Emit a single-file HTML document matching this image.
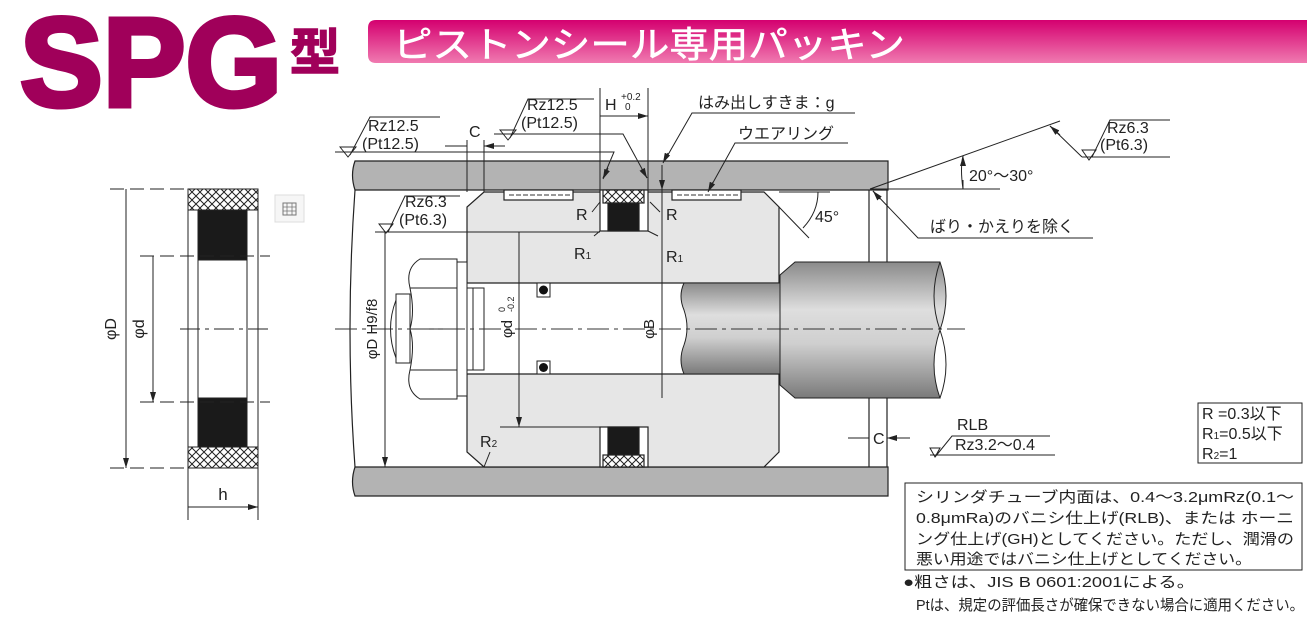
<!DOCTYPE html>
<html><head><meta charset="utf-8"><style>
html,body{margin:0;padding:0;background:#fff;}
svg{display:block;}
text{font-family:"Liberation Sans","Noto Sans CJK JP",sans-serif;fill:#222;}
</style></head><body>
<svg width="1307" height="621" viewBox="0 0 1307 621" xmlns="http://www.w3.org/2000/svg">
<defs>
<linearGradient id="bar" x1="0" y1="0" x2="0" y2="1">
<stop offset="0" stop-color="#d4006f"/><stop offset="1" stop-color="#f07ab0"/></linearGradient>
<linearGradient id="rod" x1="0" y1="0" x2="0" y2="1">
<stop offset="0" stop-color="#8a8a8a"/><stop offset="0.35" stop-color="#dedede"/><stop offset="0.6" stop-color="#cfcfcf"/><stop offset="1" stop-color="#7a7a7a"/></linearGradient>
<pattern id="xh" width="8" height="8" patternUnits="userSpaceOnUse">
<rect width="8" height="8" fill="#fff"/><path d="M0,0L8,8M8,0L0,8" stroke="#222" stroke-width="1"/></pattern>
<marker id="ar" markerWidth="10" markerHeight="6" refX="10" refY="3" orient="auto" markerUnits="userSpaceOnUse"><path d="M0,0L10,3L0,6z" fill="#222"/></marker>
</defs>

<!-- Header -->
<text x="20" y="106" font-size="126" font-weight="bold" style="fill:#a0005a;stroke:#a0005a;stroke-width:5" textLength="262" lengthAdjust="spacingAndGlyphs">SPG</text>
<text x="290" y="70" font-size="50" font-weight="bold" style="fill:#a0005a;stroke:#a0005a;stroke-width:1.5">型</text>
<path d="M376,20H1307V63H376Q368,63 368,55V28Q368,20 376,20Z" fill="url(#bar)"/>
<text x="393" y="57" font-size="36" style="fill:#fff;stroke:#fff;stroke-width:0.6" textLength="512" lengthAdjust="spacingAndGlyphs">ピストンシール専用パッキン</text>

<!-- Left seal figure -->
<g stroke="#222" stroke-width="1" fill="none">
<rect x="188" y="189" width="70" height="21" fill="url(#xh)"/>
<rect x="188" y="447" width="70" height="21" fill="url(#xh)"/>
<rect x="188" y="189" width="70" height="279"/>
<line x1="198" y1="210" x2="198" y2="447"/><line x1="247" y1="210" x2="247" y2="447"/>
<rect x="198" y="210" width="49" height="50" fill="#1a1a1a"/>
<rect x="198" y="398" width="49" height="49" fill="#1a1a1a"/>
<path d="M110,189H188M110,468H188M140,256H270M140,402H270" stroke-dasharray="14,6"/>
<path d="M180,329H272" stroke-dasharray="20,5,4,5"/>
<line x1="126" y1="189" x2="126" y2="468"/>
<path d="M126,200L126,189M126,457L126,468" marker-end="url(#ar)"/>
<line x1="153" y1="256" x2="153" y2="402"/>
<path d="M153,266L153,256M153,392L153,402" marker-end="url(#ar)"/>
<path d="M188,468V520M258,468V520"/>
<path d="M200,507L188,507M246,507L258,507" marker-end="url(#ar)"/><line x1="188" y1="507" x2="258" y2="507"/>
</g>
<text x="116" y="329" font-size="16" transform="rotate(-90 116 329)" text-anchor="middle">φD</text>
<text x="144" y="329" font-size="16" transform="rotate(-90 144 329)" text-anchor="middle">φd</text>
<text x="223" y="500" font-size="17" text-anchor="middle">h</text>
<rect x="275" y="195" width="29" height="27" fill="#f6f6f6" stroke="#ddd"/>
<rect x="283" y="203" width="13" height="12" fill="none" stroke="#777"/><path d="M283,207H296M283,211H296M287,203V215M292,203V215" stroke="#777" stroke-width="0.8"/>

<!-- Cylinder bands -->
<g stroke="#222" stroke-width="1.2">
<path d="M355,161H888V190H355Q350,175 355,161Z" fill="#b3b3b3"/>
<path d="M355,467H888V496H355Q350,482 355,467Z" fill="#b3b3b3"/>
<path d="M355,190Q345,330 355,467" fill="none"/>
<line x1="869" y1="190" x2="869" y2="467"/><line x1="887" y1="190" x2="887" y2="467"/>
<path d="M484,192H764L779,207V452L764,467H484L467,452V207Z" fill="#e6e6e6"/>
<rect x="467" y="283" width="313" height="91" fill="#fff" stroke="none"/>
<path d="M467,283H780M467,374H780" fill="none"/>
<rect x="600" y="190" width="48" height="41" fill="#fff"/>
<rect x="600" y="427" width="48" height="40" fill="#fff"/>
<rect x="603" y="190" width="41" height="13" fill="url(#xh)"/>
<rect x="608" y="203" width="31" height="28" fill="#1a1a1a"/>
<rect x="608" y="427" width="31" height="28" fill="#1a1a1a"/>
<rect x="603" y="455" width="41" height="12" fill="url(#xh)"/>
<rect x="504" y="190" width="69" height="10" fill="#fff"/>
<rect x="672" y="190" width="69" height="10" fill="#fff"/>
</g>
<path d="M509,195H570M677,195H738" stroke="#333" stroke-dasharray="5,2"/>
<path d="M684,283H780V374H684Q678,360 684,345Q690,328 684,310Q678,296 684,283Z" fill="url(#rod)" stroke="#222"/>
<path d="M795,262H940Q952,296 940,330Q928,365 940,398H795L780,385V275Z" fill="url(#rod)" stroke="#222"/>
<path d="M940,262Q928,296 940,330Q952,365 940,398" fill="none" stroke="#222"/>
<g stroke="#222" fill="#fff">
<path d="M420,259H457V399H420Q405,390 410,370Q415,345 410,329Q415,312 410,288Q405,268 420,259Z"/>
<path d="M410,288H457M410,370H457M410,329H457" fill="none"/>
<rect x="457" y="262" width="10" height="134"/>
<rect x="396" y="294" width="14" height="69"/>
<path d="M396,300Q385,329 396,358" fill="none"/>
<path d="M467,288H484V370H467" fill="none"/><line x1="473" y1="288" x2="473" y2="370"/>
<rect x="537" y="283" width="13" height="14"/><rect x="537" y="361" width="13" height="13"/>
</g>
<circle cx="543.5" cy="290" r="4.5" fill="#111"/><circle cx="543.5" cy="367.5" r="4.5" fill="#111"/>
<path d="M335,329H965" stroke="#333" stroke-dasharray="22,5,4,5"/>

<g stroke="#222" stroke-width="1" fill="none">
<line x1="385" y1="232" x2="385" y2="467"/><path d="M385,455L385,467" marker-end="url(#ar)"/>
<line x1="375" y1="232" x2="600" y2="232"/>
<line x1="519" y1="232" x2="519" y2="427"/><path d="M519,244L519,232M519,415L519,427" marker-end="url(#ar)"/>
<line x1="500" y1="427" x2="600" y2="427"/>
<line x1="662" y1="165" x2="662" y2="398"/><path d="M662,178L662,190" marker-end="url(#ar)"/>
<path d="M467,140V192M484,140V192"/>
<path d="M445,146L467,146M505,146L484,146" marker-end="url(#ar)"/>
<path d="M335,152H614L603,178"/><path d="M608,168L603,179" marker-end="url(#ar)"/>
<path d="M340,147L348,157L356,147Z M350,155L370,117H440"/>
<path d="M494,134H623L647,178"/><path d="M642,169L647,178" marker-end="url(#ar)"/>
<path d="M500,130L508,140L516,130Z M510,138L528,99H594"/>
<path d="M600,88V192M648,88V192"/>
<path d="M624,116L600,116M624,116L648,116" marker-end="url(#ar)"/>
<path d="M855,113H692L665,160"/><path d="M668,153L663,163" marker-end="url(#ar)"/>
<path d="M848,143H735L710,188"/><path d="M713,182L708,192" marker-end="url(#ar)"/>
<path d="M592,212L600,202M594,236L600,231M660,212L650,202M658,236L648,231"/>
<path d="M379,224L386,233L393,224Z M388,232L405,196H460"/>
<path d="M779,207L809,238M779,192H830"/>
<path d="M803,228Q818,212 818,192" />
<path d="M490,452L484,467"/>
<path d="M870,189H1000M870,189L1060,121"/>
<path d="M963,180V189M963,165V156" marker-end="url(#ar)"/>
<path d="M963,156Q960,168 963,189"/>
<path d="M1082,157H1170M1082,157L1050,126"/><path d="M1060,135L1050,126" marker-end="url(#ar)"/>
<path d="M1082,150L1089,160L1096,150Z M1092,157L1110,120H1170"/>
<path d="M1093,238H918L873,191"/><path d="M880,199L873,191" marker-end="url(#ar)"/>
<path d="M848,438L869,438M910,438L887,438" marker-end="url(#ar)"/>
<path d="M930,455H1055M930,448L935,457L940,448Z M935,457L952,436H1050"/>
<rect x="1198" y="403" width="104" height="60"/>
<rect x="905" y="483" width="397" height="87"/>
</g>

<g font-size="16">
<text x="368" y="131">Rz12.5</text><text x="362" y="149">(Pt12.5)</text>
<text x="469" y="137">C</text>
<text x="527" y="110">Rz12.5</text><text x="521" y="128">(Pt12.5)</text>
<text x="605" y="110">H</text><text x="621" y="100" font-size="10">+0.2</text><text x="625" y="110" font-size="10">0</text>
<text x="698" y="108">はみ出しすきま：g</text>
<text x="738" y="139">ウエアリング</text>
<text x="405" y="207">Rz6.3</text><text x="399" y="225">(Pt6.3)</text>
<text x="576" y="220">R</text><text x="666" y="220">R</text>
<text x="574" y="259">R<tspan font-size="10">1</tspan></text><text x="666" y="262">R<tspan font-size="10">1</tspan></text>
<text x="815" y="222">45°</text>
<text x="480" y="447">R<tspan font-size="10">2</tspan></text>
<text x="969" y="181">20°〜30°</text>
<text x="1107" y="133">Rz6.3</text><text x="1100" y="150">(Pt6.3)</text>
<text x="930" y="232">ばり・かえりを除く</text>
<text x="873" y="444">C</text>
<text x="957" y="430">RLB</text>
<text x="955" y="450">Rz3.2〜0.4</text>
<text x="1202" y="419">R =0.3以下</text>
<text x="1202" y="439">R<tspan font-size="10">1</tspan>=0.5以下</text>
<text x="1202" y="459">R<tspan font-size="10">2</tspan>=1</text>
</g>
<text x="377" y="329" font-size="15" transform="rotate(-90 377 329)" text-anchor="middle">φD H9/f8</text>
<text x="512" y="329" font-size="15" transform="rotate(-90 512 329)" text-anchor="middle">φd</text>
<text x="505" y="312" font-size="9" transform="rotate(-90 505 312)">0</text>
<text x="514" y="312" font-size="9" transform="rotate(-90 514 312)">-0.2</text>
<text x="654" y="329" font-size="15" transform="rotate(-90 654 329)" text-anchor="middle">φB</text>
<g font-size="15">
<text x="916" y="502" textLength="378" lengthAdjust="spacingAndGlyphs">シリンダチューブ内面は、0.4〜3.2μmRz(0.1〜</text>
<text x="916" y="523" textLength="378" lengthAdjust="spacingAndGlyphs">0.8μmRa)のバニシ仕上げ(RLB)、または ホーニ</text>
<text x="916" y="544" textLength="378" lengthAdjust="spacingAndGlyphs">ング仕上げ(GH)としてください。ただし、潤滑の</text>
<text x="916" y="564" textLength="336" lengthAdjust="spacingAndGlyphs">悪い用途ではバニシ仕上げとしてください。</text>
<text x="903" y="587" textLength="292" lengthAdjust="spacingAndGlyphs">●粗さは、JIS B 0601:2001による。</text>
<text x="916" y="610" textLength="388" lengthAdjust="spacingAndGlyphs">Ptは、規定の評価長さが確保できない場合に適用ください。</text>
</g>
</svg>
</body></html>
